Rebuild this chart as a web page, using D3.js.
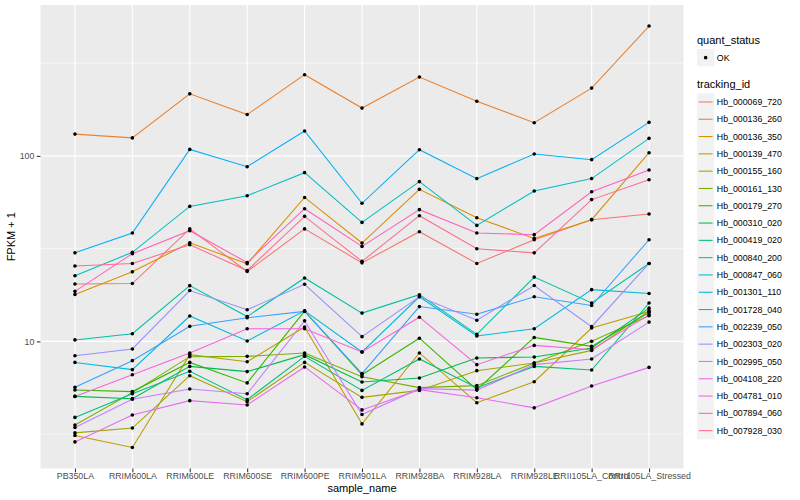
<!DOCTYPE html>
<html>
<head>
<meta charset="utf-8">
<script src="https://cdn.jsdelivr.net/npm/d3@7/dist/d3.min.js"></script>
<style>
  body { margin: 0; background: #fff; }
  text { font-family: "Liberation Sans", Arial, sans-serif; }
</style>
</head>
<body>
<div id="chart-area"></div>
<script>
// sample names along the x axis
var samples = ["PB350LA", "RRIM600LA", "RRIM600LE", "RRIM600SE", "RRIM600PE", "RRIM901LA",
    "RRIM928BA", "RRIM928LA", "RRIM928LE", "RRII105LA_Control", "RRII105LA_Stressed"];

var trackingIds = ["Hb_000069_720", "Hb_000136_260", "Hb_000136_350", "Hb_000139_470",
    "Hb_000155_160", "Hb_000161_130", "Hb_000179_270", "Hb_000310_020", "Hb_000419_020",
    "Hb_000840_200", "Hb_000847_060", "Hb_001301_110", "Hb_001728_040", "Hb_002239_050",
    "Hb_002303_020", "Hb_002995_050", "Hb_004108_220", "Hb_004781_010", "Hb_007894_060",
    "Hb_007928_030"];

// FPKM + 1, one array per gene (same order as samples)
var hb000069_720 = [20.4, 20.5, 40.4, 23.8, 40.4, 26.5, 39.0, 26.3, 35.3, 45.3, 48.6];
var hb000136_260 = [131, 125, 216, 167, 274, 181, 266, 197, 151, 232, 501];
var hb000136_350 = [17.9, 23.7, 34.0, 26.2, 59.7, 33.9, 66.0, 46.4, 35.9, 45.3, 104];
var hb000139_470 = [3.11, 2.68, 8.48, 7.77, 11.96, 3.59, 8.66, 4.67, 6.06, 11.8, 14.5];
var hb000155_160 = [3.21, 3.41, 6.53, 4.73, 7.70, 4.99, 5.44, 6.95, 7.65, 8.94, 14.6];
var hb000161_130 = [3.54, 5.29, 8.27, 8.30, 8.66, 6.45, 5.63, 5.77, 7.65, 10.0, 13.75];
var hb000179_270 = [5.47, 5.36, 7.70, 5.97, 14.55, 6.61, 10.4, 5.49, 10.5, 9.40, 14.3];
var hb000310_020 = [5.05, 4.91, 7.33, 6.87, 8.48, 6.04, 6.35, 8.14, 8.24, 9.21, 15.1];
var hb000419_020 = [3.89, 5.22, 6.89, 4.85, 8.30, 5.44, 8.04, 5.63, 7.33, 7.01, 16.1];
var hb000840_200 = [10.18, 11.0, 19.97, 13.6, 21.97, 14.2, 17.85, 10.9, 22.2, 16.1, 26.3];
var hb000847_060 = [22.6, 30.2, 53.4, 61.0, 81.2, 43.8, 72.6, 42.2, 64.7, 75.4, 124.3];
var hb001301_110 = [7.70, 7.04, 13.7, 10.05, 14.6, 8.77, 17.4, 10.7, 11.7, 19.0, 18.1];
var hb001728_040 = [30.0, 38.4, 108.4, 87.4, 136.2, 55.5, 108.0, 75.4, 102.4, 95.4, 151.6];
var hb002239_050 = [5.65, 7.87, 12.05, 13.4, 14.5, 6.70, 15.4, 14.0, 17.4, 15.6, 35.3];
var hb002303_020 = [8.37, 9.10, 18.8, 14.8, 20.3, 10.6, 17.4, 13.0, 20.0, 12.0, 26.3];
var hb002995_050 = [3.43, 4.88, 5.54, 5.22, 12.9, 4.03, 5.56, 5.46, 7.49, 8.04, 12.7];
var hb004108_220 = [2.87, 4.01, 4.79, 4.54, 7.28, 4.27, 5.49, 4.97, 4.38, 5.75, 7.24];
var hb004781_010 = [5.05, 6.61, 8.66, 11.7, 11.7, 8.77, 13.5, 7.49, 9.51, 9.02, 13.9];
var hb007894_060 = [18.6, 29.7, 39.5, 26.6, 51.9, 32.5, 51.3, 38.4, 37.6, 64.1, 83.9];
var hb007928_030 = [25.5, 26.3, 33.2, 24.1, 47.2, 27.0, 47.6, 31.6, 30.0, 58.1, 74.4];

var yTicks = [10, 100];
var quantStatus = ["OK"];

// ggplot hue palette for 20 levels
var palette = ["#F8766D", "#EA8331", "#D89000", "#C09B00", "#A3A500", "#7CAE00", "#39B600",
    "#00BB4E", "#00BF7D", "#00C1A3", "#00BFC4", "#00BAE0", "#00B0F6", "#35A2FF", "#9590FF",
    "#C77CFF", "#E76BF3", "#FA62DB", "#FF62BC", "#FF6C91"];

var seriesValues = [hb000069_720, hb000136_260, hb000136_350, hb000139_470, hb000155_160,
    hb000161_130, hb000179_270, hb000310_020, hb000419_020, hb000840_200, hb000847_060,
    hb001301_110, hb001728_040, hb002239_050, hb002303_020, hb002995_050, hb004108_220,
    hb004781_010, hb007894_060, hb007928_030];

var series = trackingIds.map(function(id, i) {
    return {
        id: id,
        color: palette[i],
        points: samples.map(function(s, j) { return {sample: s, value: seriesValues[i][j]}; })
    };
});

var W = 800, H = 500;
var panel = {left: 40.5, right: 683.5, top: 5, bottom: 468.5};

var svg = d3.select("#chart-area").append("svg")
    .attr("width", W)
    .attr("height", H);

svg.append("rect").attr("width", W).attr("height", H).attr("fill", "#fff");

var x = d3.scalePoint()
    .domain(samples)
    .range([panel.left, panel.right])
    .padding(0.6);

// log scale with ggplot-style 5% expansion in log space
var allValues = d3.merge(seriesValues);
var lo = Math.log10(d3.min(allValues)), hi = Math.log10(d3.max(allValues));
var pad = (hi - lo) * 0.05;
var y = d3.scaleLog()
    .domain([Math.pow(10, lo - pad), Math.pow(10, hi + pad)])
    .range([panel.bottom, panel.top]);

var g = svg.append("g");

g.append("rect")
    .attr("x", panel.left).attr("y", panel.top)
    .attr("width", panel.right - panel.left)
    .attr("height", panel.bottom - panel.top)
    .attr("fill", "#EBEBEB");

// minor grid at half decades
var minorTicks = [Math.pow(10, 0.5), Math.pow(10, 1.5), Math.pow(10, 2.5)];
g.selectAll(".minor").data(minorTicks).enter().append("line")
    .attr("x1", panel.left).attr("x2", panel.right)
    .attr("y1", function(d) { return y(d); }).attr("y2", function(d) { return y(d); })
    .attr("stroke", "#fff").attr("stroke-width", 0.55);

g.selectAll(".major").data(yTicks).enter().append("line")
    .attr("x1", panel.left).attr("x2", panel.right)
    .attr("y1", function(d) { return y(d); }).attr("y2", function(d) { return y(d); })
    .attr("stroke", "#fff").attr("stroke-width", 1.1);

g.selectAll(".vgrid").data(samples).enter().append("line")
    .attr("x1", function(d) { return x(d); }).attr("x2", function(d) { return x(d); })
    .attr("y1", panel.top).attr("y2", panel.bottom)
    .attr("stroke", "#fff").attr("stroke-width", 1.1);

var line = d3.line()
    .x(function(d) { return x(d.sample); })
    .y(function(d) { return y(d.value); });

g.selectAll(".series").data(series).enter().append("path")
    .attr("d", function(d) { return line(d.points); })
    .attr("fill", "none")
    .attr("stroke", function(d) { return d.color; })
    .attr("stroke-width", 1.07);

series.forEach(function(s) {
    g.selectAll(null).data(s.points).enter().append("circle")
        .attr("cx", function(d) { return x(d.sample); })
        .attr("cy", function(d) { return y(d.value); })
        .attr("r", 1.8)
        .attr("fill", "#000");
});

// axes
var xAxis = svg.append("g")
    .attr("transform", "translate(0," + panel.bottom + ")")
    .call(d3.axisBottom(x).tickSize(3.7).tickPadding(0.5));
var yAxis = svg.append("g")
    .attr("transform", "translate(" + panel.left + ",0)")
    .call(d3.axisLeft(y).tickValues(yTicks).tickFormat(d3.format("d")).tickSize(3.7).tickPadding(2.5));

[xAxis, yAxis].forEach(function(a) {
    a.select(".domain").remove();
    a.selectAll(".tick line").attr("stroke", "#333333").attr("stroke-width", 1.07);
    a.selectAll(".tick text").attr("fill", "#4D4D4D")
        .style("font-size", "8.8px")
        .style("font-family", "'Liberation Sans', Arial, sans-serif");
});

svg.append("text")
    .attr("x", (panel.left + panel.right) / 2)
    .attr("y", 492)
    .attr("text-anchor", "middle")
    .style("font-size", "11px")
    .text("sample_name");

svg.append("text")
    .attr("transform", "translate(15," + ((panel.top + panel.bottom) / 2) + ") rotate(-90)")
    .attr("text-anchor", "middle")
    .style("font-size", "11px")
    .text("FPKM + 1");

// legends
var lx = 697, keySize = 17.3;
var leg = svg.append("g");

leg.append("text").attr("x", lx).attr("y", 44).style("font-size", "11px").text("quant_status");
var qs = leg.selectAll(".qs").data(quantStatus).enter().append("g")
    .attr("transform", function(d, i) { return "translate(" + lx + "," + (49 + i * keySize) + ")"; });
qs.append("rect").attr("width", keySize).attr("height", keySize).attr("fill", "#F2F2F2");
qs.append("circle").attr("cx", keySize / 2).attr("cy", keySize / 2).attr("r", 1.8).attr("fill", "#000");
qs.append("text").attr("x", keySize + 2.5).attr("y", keySize / 2 + 3.1)
    .style("font-size", "8.8px").text(function(d) { return d; });

leg.append("text").attr("x", lx).attr("y", 88).style("font-size", "11px").text("tracking_id");
var keys = leg.selectAll(".tid").data(series).enter().append("g")
    .attr("transform", function(d, i) { return "translate(" + lx + "," + (93.3 + i * keySize) + ")"; });
keys.append("rect").attr("width", keySize).attr("height", keySize).attr("fill", "#F2F2F2");
keys.append("line")
    .attr("x1", 1.7).attr("x2", keySize - 1.7)
    .attr("y1", keySize / 2).attr("y2", keySize / 2)
    .attr("stroke", function(d) { return d.color; })
    .attr("stroke-width", 1.07);
keys.append("text").attr("x", keySize + 2.5).attr("y", keySize / 2 + 3.1)
    .style("font-size", "8.8px").text(function(d) { return d.id; });
</script>
</body>
</html>
